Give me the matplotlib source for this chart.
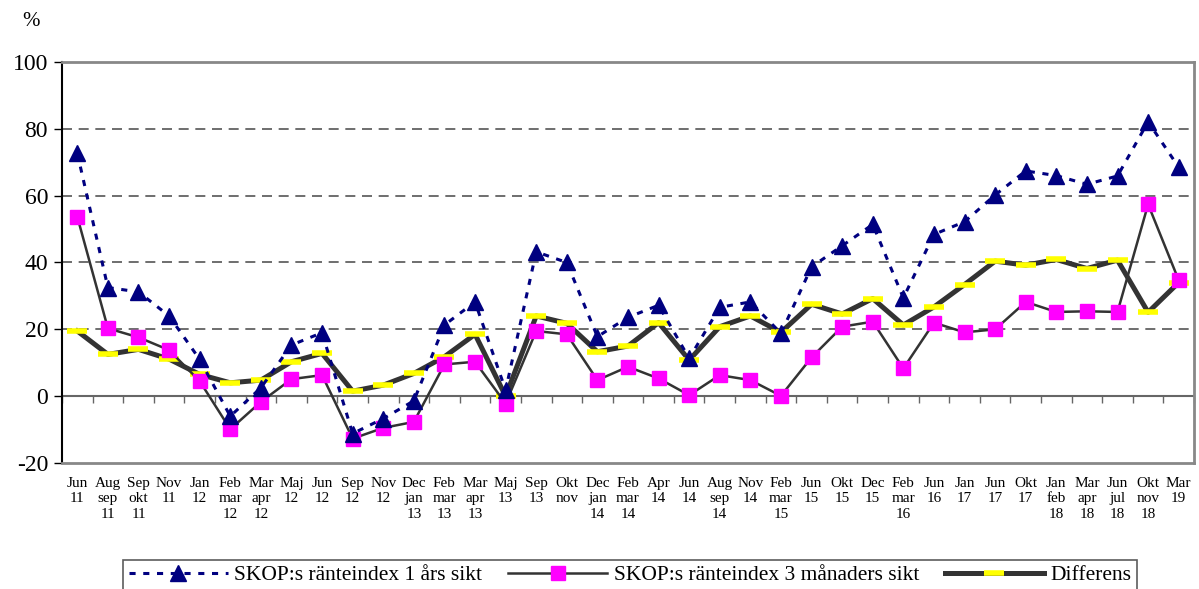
import matplotlib
matplotlib.use("Agg")
import matplotlib.pyplot as plt
from matplotlib.lines import Line2D
import numpy as np

plt.rcParams['font.family'] = ['Liberation Serif', 'DejaVu Serif']
plt.rcParams['axes.unicode_minus'] = False

categories = ["Jun\n11", "Aug\nsep\n11", "Sep\nokt\n11", "Nov\n11", "Jan\n12", "Feb\nmar\n12",
              "Mar\napr\n12", "Maj\n12", "Jun\n12", "Sep\n12", "Nov\n12", "Dec\njan\n13",
              "Feb\nmar\n13", "Mar\napr\n13", "Maj\n13", "Sep\n13", "Okt\nnov", "Dec\njan\n14",
              "Feb\nmar\n14", "Apr\n14", "Jun\n14", "Aug\nsep\n14", "Nov\n14", "Feb\nmar\n15",
              "Jun\n15", "Okt\n15", "Dec\n15", "Feb\nmar\n16", "Jun\n16", "Jan\n17", "Jun\n17",
              "Okt\n17", "Jan\nfeb\n18", "Mar\napr\n18", "Jun\njul\n18", "Okt\nnov\n18", "Mar\n19"]

index_1yr = [72.7, 32.5, 31.2, 24.0, 11.0, -6.0, 2.5, 15.3, 19.0, -11.2, -6.7, -1.4,
             21.3, 28.2, 1.8, 43.2, 40.0, 17.8, 23.6, 27.2, 11.3, 26.6, 28.2, 18.8,
             38.7, 45.0, 51.4, 29.4, 48.4, 52.2, 60.2, 67.4, 66.0, 63.4, 65.9, 82.1, 68.5]

index_3m = [53.7, 20.3, 17.6, 13.8, 4.5, -9.9, -1.7, 5.1, 6.3, -12.7, -9.5, -7.7,
            9.5, 10.3, -2.2, 19.5, 18.5, 4.8, 8.8, 5.3, 0.3, 6.3, 4.8, 0.1,
            11.6, 20.8, 22.3, 8.3, 22.0, 19.1, 20.0, 28.2, 25.2, 25.4, 25.2, 57.4, 34.7]

differens = [19.5, 12.5, 14.0, 11.1, 6.5, 4.0, 4.8, 10.3, 12.8, 1.5, 3.3, 6.8,
             11.8, 18.5, 0.0, 24.0, 21.8, 13.3, 15.0, 22.0, 10.8, 20.8, 24.0, 19.1,
             27.5, 24.6, 29.2, 21.3, 26.7, 33.4, 40.4, 39.2, 40.9, 38.2, 40.7, 25.1, 34.0]

labels = ["SKOP:s ränteindex 1 års sikt", "SKOP:s ränteindex 3 månaders sikt", "Differens"]

fig = plt.figure(figsize=(11.99, 5.89), dpi=100)
ax = fig.add_axes([62/1199, 1 - 463/589, (1194 - 62)/1199, (463 - 62)/589])

x = np.arange(len(categories))

navy = "#000080"
dark = "#333333"

ax.plot(x, differens, color=dark, lw=3.6, zorder=3, solid_joinstyle='round')
ax.plot(x, differens, ls='none', marker='_', ms=15, mew=4, color='#ffff00', zorder=4)
ax.plot(x, index_3m, color=dark, lw=1.8, marker='s', ms=10.5, mfc='#ff00ff', mec='#ff00ff', zorder=5)
ax.plot(x, index_1yr, color=navy, lw=2.2, ls=(0, (2, 2.5)), marker='^', ms=11.5,
        mfc=navy, mec=navy, zorder=6)

ax.set_xlim(-0.5, len(categories) - 0.5)
ax.set_ylim(-20, 100)
ax.set_yticks(np.arange(-20, 101, 20))
ax.tick_params(axis='y', labelsize=17, length=6, width=1, direction='out', pad=4)
for yv in [20, 40, 60, 80]:
    ax.axhline(yv, color='#555555', lw=1.2, ls=(0, (6, 4)), zorder=1)
ax.axhline(0, color='#666666', lw=1.5, zorder=1)

ax.set_xticks(x)
ax.set_xticklabels(categories, fontsize=11, va='top', linespacing=1.25)
ax.tick_params(axis='x', length=0, pad=10)

for s in ['top', 'right', 'bottom']:
    ax.spines[s].set_color('#888888')
    ax.spines[s].set_linewidth(2)
ax.spines['left'].set_color('black')
ax.spines['left'].set_linewidth(1.5)

sec = ax.secondary_xaxis(20/120)
sec.set_xticks(np.arange(-0.5, len(categories), 1))
sec.set_xticklabels([])
sec.tick_params(axis='x', length=5, width=1, color='#666666', direction='out')
sec.spines['bottom'].set_visible(False)

fig.text(22/1199, 1 - 22/589, "%", fontsize=15, ha='left', va='center')

handles = [
    Line2D([], [], color=navy, lw=2.2, ls=(0, (2, 2.5)), marker='^', ms=11.5, mfc=navy, mec=navy),
    Line2D([], [], color=dark, lw=1.8, marker='s', ms=10.5, mfc='#ff00ff', mec='#ff00ff'),
    Line2D([], [], color=dark, lw=3.6, marker='_', ms=15, mew=4, mfc='#ffff00', mec='#ffff00'),
]
leg = fig.legend(handles, labels, loc='upper center', bbox_to_anchor=(630/1199, 1 - 560/589),
                 ncol=3, fontsize=15.5, frameon=True, fancybox=False, edgecolor='#333333',
                 handlelength=4.6, handletextpad=0.3, columnspacing=1.2, borderpad=0.25,
                 borderaxespad=0)
leg.get_frame().set_linewidth(1.2)

fig.savefig("out.png", dpi=100)
